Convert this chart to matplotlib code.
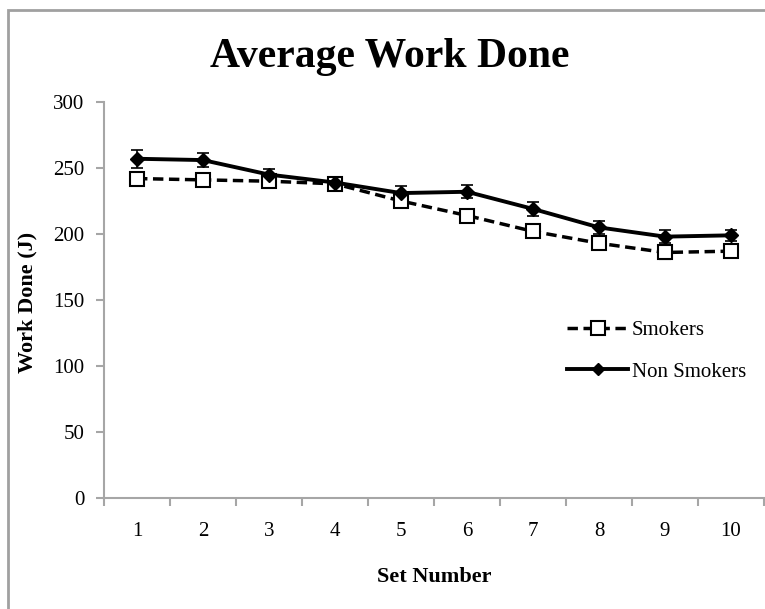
import matplotlib
matplotlib.use("Agg")
import matplotlib.pyplot as plt
from matplotlib.patches import Rectangle

# Data
sets = [1, 2, 3, 4, 5, 6, 7, 8, 9, 10]
smokers = [242, 241, 240, 238, 225, 214, 202, 193, 186, 187]
smokers_err = [4, 3, 3, 3, 4, 3, 4, 3, 5, 4]
non_smokers = [257, 256, 245, 239, 231, 232, 219, 205, 198, 199]
non_smokers_err = [7, 5, 4, 3, 5, 5, 5, 5, 5, 4]

plt.rcParams['font.family'] = ['Liberation Serif', 'DejaVu Serif']
grey = '#a6a6a6'

fig = plt.figure(figsize=(7.65, 6.09), dpi=100)
ax = fig.add_axes([104 / 765, 111 / 609, 660 / 765, 396 / 609])

# outer chart border
fig.add_artist(Rectangle((8 / 765, -0.1), 1.2, 1.1 - 10 / 609, transform=fig.transFigure,
                         fill=False, edgecolor='#a0a0a0', lw=2, clip_on=False))

eb1 = ax.errorbar(sets, smokers, yerr=smokers_err, color='black', ls=(0, (3, 1.6)), lw=2.5,
                  marker='s', ms=10, mfc='white', mec='black', mew=1.5,
                  ecolor='black', elinewidth=1.2, capsize=4, capthick=1.2)
eb2 = ax.errorbar(sets, non_smokers, yerr=non_smokers_err, color='black', ls='-', lw=2.8,
                  marker='D', ms=7, mfc='black', mec='black',
                  ecolor='black', elinewidth=1.2, capsize=4, capthick=1.2)

ax.set_xlim(0.5, 10.5)
ax.set_ylim(0, 300)
ax.set_yticks(range(0, 301, 50))
ax.set_xticks(sets)
ax.set_xticks([x + 0.5 for x in [0] + sets], minor=True)
ax.tick_params(axis='x', which='major', length=0, pad=17, labelsize=15)
ax.tick_params(axis='x', which='minor', length=6, color=grey, width=1.5, direction='out')
ax.tick_params(axis='y', length=6, color=grey, width=1.5, labelsize=15, pad=8)

for s in ['top', 'right']:
    ax.spines[s].set_visible(False)
for s in ['left', 'bottom']:
    ax.spines[s].set_color(grey)
    ax.spines[s].set_linewidth(1.5)

fig.text(390 / 765, 1 - 57 / 609, 'Average Work Done', ha='center', va='center',
         fontsize=30, fontweight='bold')
fig.text(434 / 765, 1 - 577 / 609, 'Set Number', ha='center', va='center',
         fontsize=16, fontweight='bold')
fig.text(27 / 765, 1 - 302 / 609, 'Work Done (J)', ha='center', va='center',
         rotation=90, fontsize=16, fontweight='bold')

leg = ax.legend([eb1[0], eb2[0]], ['Smokers', 'Non Smokers'],
                loc='center left', bbox_to_anchor=(557 / 765, 1 - 351 / 609),
                bbox_transform=fig.transFigure, frameon=False, fontsize=15,
                handlelength=2.9, handletextpad=0.2, labelspacing=1.05, borderpad=0)
leg.legend_handles[1].set_markersize(6)

fig.savefig('out.png', dpi=100)
